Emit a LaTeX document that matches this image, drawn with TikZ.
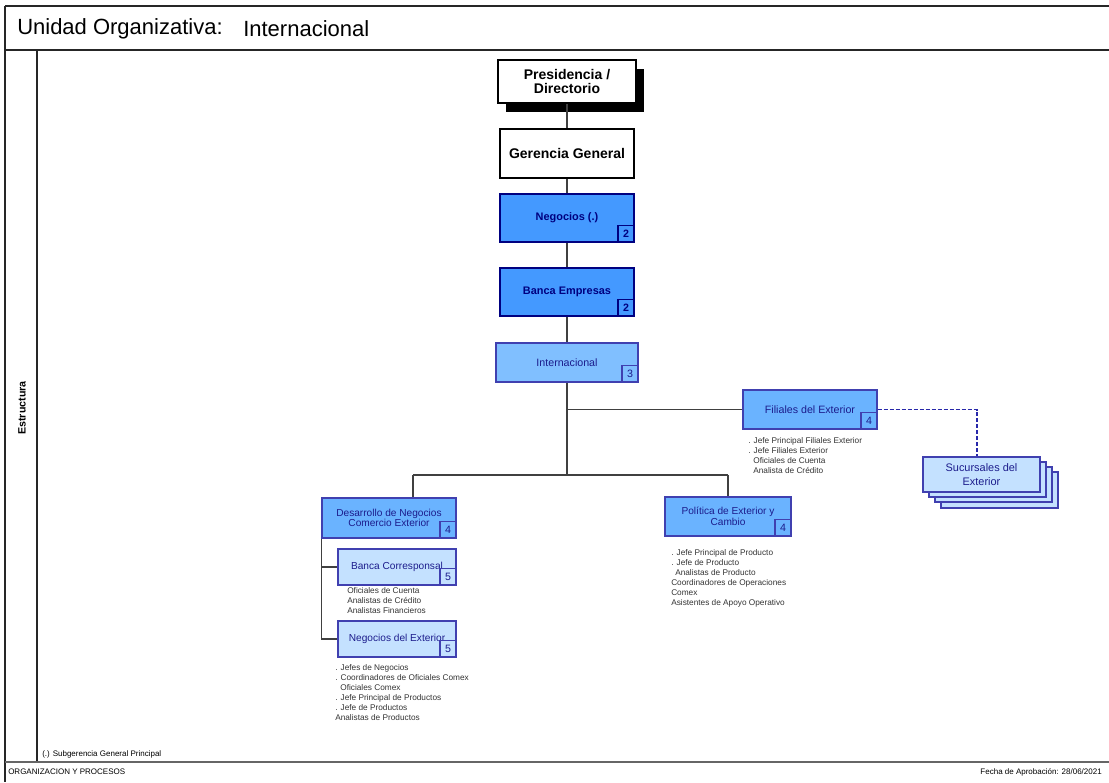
\documentclass[tikz,border=0pt]{standalone}
\usepackage{fontspec}
\setmainfont{Liberation Sans}
\usetikzlibrary{positioning}

\definecolor{navyline}{RGB}{0,0,128}
\definecolor{blueline}{RGB}{64,64,176}
\definecolor{dashblue}{RGB}{40,40,170}
\definecolor{darkfill}{RGB}{68,153,255}
\definecolor{midfill}{RGB}{128,191,255}
\definecolor{lvlfill}{RGB}{106,179,255}
\definecolor{palefill}{RGB}{196,225,255}
\definecolor{boxtext}{RGB}{28,28,140}
\definecolor{linkgray}{RGB}{64,64,64}

\begin{document}
\begin{tikzpicture}[x=0.75pt,y=0.75pt,yscale=-1,xscale=1,
  topbox/.style={draw=black, line width=1pt, fill=white, align=center, inner sep=0pt,
    font=\fontsize{10.5}{11}\selectfont\bfseries},
  darkbox/.style={draw=navyline, line width=1.1pt, fill=darkfill, text=navyline, align=center, inner sep=0pt,
    font=\fontsize{8.2}{9}\selectfont\bfseries},
  midbox/.style={draw=blueline, line width=0.8pt, fill=midfill, text=boxtext, align=center, inner sep=0pt,
    font=\fontsize{8}{9}\selectfont},
  lvlbox/.style={draw=blueline, line width=0.8pt, fill=lvlfill, text=boxtext, align=center, inner sep=0pt,
    font=\fontsize{7.6}{7.5}\selectfont},
  palebox/.style={draw=blueline, line width=0.8pt, fill=palefill, text=boxtext, align=center, inner sep=0pt,
    font=\fontsize{7.6}{9}\selectfont},
  badge/.style={draw=blueline, line width=0.8pt, anchor=south east, minimum width=12pt, minimum height=12.5pt,
    inner sep=0pt, text=boxtext, font=\fontsize{8}{9}\selectfont},
  darkbadge/.style={badge, draw=navyline, line width=1.1pt, text=navyline, font=\fontsize{8}{9}\selectfont\bfseries},
  duties/.style={anchor=north west, align=left, inner sep=0pt, text=black!80,
    font=\fontsize{6.2}{7.5}\selectfont},
  link/.style={draw=linkgray, line width=0.8pt},
  frameline/.style={draw=black!85, line width=1.3pt},
  smalltext/.style={inner sep=0pt, font=\fontsize{6}{7}\selectfont}
]
\useasboundingbox (0,0) rectangle (1109,782);

%Frame
\draw [frameline] (5,6) -- (1109,6) ;
\draw [frameline] (5,50) -- (1109,50) ;
\draw [frameline] (5,6) -- (5,782) ;
\draw [frameline, line width=0.9pt] (37,50) -- (37,762) ;
\draw [frameline, draw=black!60, line width=1.3pt] (5,762) -- (1109,762) ;

% Text Node
\node [anchor=west, inner sep=0pt, font=\fontsize{16.5}{18}\selectfont] (title) at (17,29) {Unidad Organizativa:};
\node [anchor=west, inner sep=0pt, font=\fontsize{16.5}{18}\selectfont] (unit) at (243,29) {Internacional};
\node [rotate=90, inner sep=0pt, font=\fontsize{8}{9}\selectfont\bfseries] (side) at (22,408) {Estructura};
\node [smalltext, anchor=west] (note) at (42,754) {(.) Subgerencia General Principal};
\node [smalltext, anchor=west] (dept) at (8,772) {ORGANIZACION Y PROCESOS};
\node [smalltext, anchor=east] (date) at (1102,772) {Fecha de Aprobación: 28/06/2021};

%Shadow
\fill [black] (506,69) rectangle (644,112) ;

%Boxes
\node [topbox, minimum width=103.5pt, minimum height=32.25pt] (pres) at (567,81.5) {Presidencia /\\Directorio};
\node [topbox, minimum width=100.5pt, minimum height=36.75pt] (ger) at (567,153.5) {Gerencia General};
\node [darkbox, minimum width=100.5pt, minimum height=36pt] (neg) at (567,218) {Negocios (.)};
\node [darkbox, minimum width=100.5pt, minimum height=36pt] (bem) at (567,292) {Banca Empresas};
\node [midbox, minimum width=106.5pt, minimum height=29.25pt] (intl) at (567,362.5) {Internacional};
\node [lvlbox, minimum width=100.5pt, minimum height=29.25pt, font=\fontsize{8}{9}\selectfont] (fil) at (810,409.5) {Filiales del Exterior};
\node [lvlbox, minimum width=100.5pt, minimum height=30pt] (des) at (389,518) {Desarrollo de Negocios\\Comercio Exterior};
\node [lvlbox, minimum width=94.5pt, minimum height=29.25pt, font=\fontsize{7.6}{8.4}\selectfont] (pol) at (728,516.5) {Política de Exterior y\\Cambio};
\node [palebox, minimum width=88.5pt, minimum height=27pt] (bco) at (397,567) {Banca Corresponsal};
\node [palebox, minimum width=88.5pt, minimum height=27pt] (nex) at (397,639) {Negocios del Exterior};

%Stack
\draw [blueline, line width=0.8pt, fill=palefill] (941,472) rectangle (1058,508) ;
\draw [blueline, line width=0.8pt, fill=palefill] (935,467) rectangle (1052,502) ;
\draw [blueline, line width=0.8pt, fill=palefill] (929,462) rectangle (1046,497) ;
\node [palebox, minimum width=87.75pt, minimum height=26.25pt, font=\fontsize{8.2}{10}\selectfont] (suc) at (981.5,474.5) {Sucursales del\\Exterior};

%Badges
\node [darkbadge] (negN) at (neg.south east) {2};
\node [darkbadge] (bemN) at (bem.south east) {2};
\node [badge] (intlN) at (intl.south east) {3};
\node [badge] (filN) at (fil.south east) {4};
\node [badge] (desN) at (des.south east) {4};
\node [badge] (polN) at (pol.south east) {4};
\node [badge] (bcoN) at (bco.south east) {5};
\node [badge] (nexN) at (nex.south east) {5};

%Links
\coordinate (hub) at (567,475);
\coordinate (filJoin) at (567,409.5);
\coordinate (desTop) at (413,475);
\coordinate (polTop) at (728,475);
\coordinate (sucTop) at (977,409.5);
\draw [link] (pres) -- (ger) ;
\draw [link] (ger) -- (neg) ;
\draw [link] (neg) -- (bem) ;
\draw [link] (bem) -- (intl) ;
\draw [link] (intl) -- (hub) ;
\draw [link] (filJoin) -- (fil) ;
\draw [link] (desTop) -- (polTop) ;
\draw [link] (desTop) -- (desTop |- des.north) ;
\draw [link] (polTop) -- (pol) ;
\draw [link] (des.south west) |- (nex.west) ;
\draw [link] (des.south west |- bco.west) -- (bco.west) ;
\draw [draw=dashblue, line width=1pt, dash pattern={on 3pt off 1.5pt}] (fil.east) -- (sucTop) -- (sucTop |- suc.north) ;

% Text Node
\node [duties] (filList) at (748,437) {. Jefe Principal Filiales Exterior\\. Jefe Filiales Exterior\\\hspace*{3.8pt}Oficiales de Cuenta\\\hspace*{3.8pt}Analista de Crédito};
\node [duties] (bcoList) at (347,587) {Oficiales de Cuenta\\Analistas de Crédito\\Analistas Financieros};
\node [duties] (nexList) at (335,664) {. Jefes de Negocios\\. Coordinadores de Oficiales Comex\\\hspace*{3.8pt}Oficiales Comex\\. Jefe Principal de Productos\\. Jefe de Productos\\Analistas de Productos};
\node [duties] (polList) at (671,549) {. Jefe Principal de Producto\\. Jefe de Producto\\\hspace*{3pt}Analistas de Producto\\Coordinadores de Operaciones\\Comex\\Asistentes de Apoyo Operativo};

\end{tikzpicture}
\end{document}
